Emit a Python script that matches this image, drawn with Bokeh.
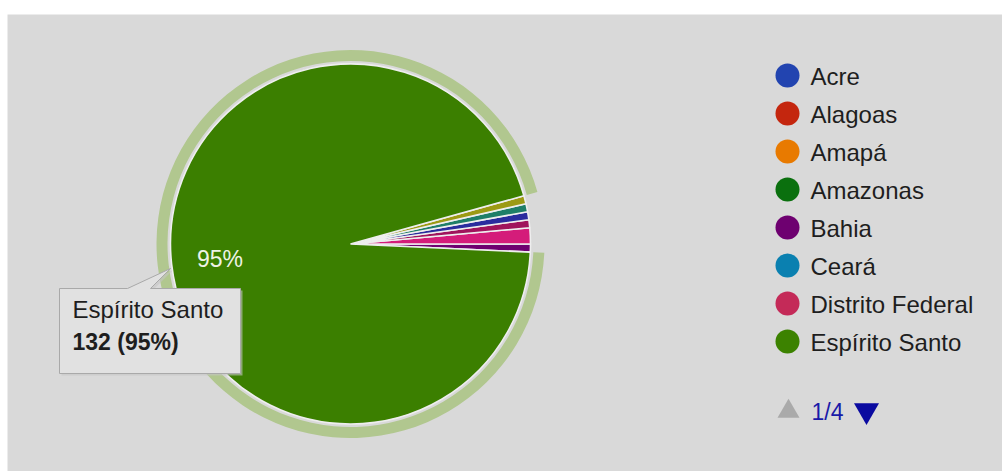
import math
from bokeh.plotting import figure
from bokeh.models import ColumnDataSource, Range1d
from bokeh.core.properties import value
from bokeh.embed import file_html
from bokeh.resources import INLINE

# ---------------- data ----------------
legend_states = ["Acre", "Alagoas", "Amapá", "Amazonas", "Bahia", "Ceará",
                 "Distrito Federal", "Espírito Santo"]
legend_colors = ["#2244b0", "#c4260e", "#e87a00", "#0a700e", "#6e0070",
                 "#0a80b0", "#c42a58", "#3c8200"]

slice_names = ["Bahia", "Distrito Federal", "Goiás", "Maranhão",
               "Mato Grosso do Sul", "Minas Gerais", "Espírito Santo"]
slice_values = [1, 2, 1, 1, 1, 1, 132]
slice_colors = ["#6e0070", "#d41c7a", "#a0145c", "#2a2c9e", "#1f7e68",
                "#9c9a14", "#3b7f00"]

highlight = "Espírito Santo"
page_label = "1/4"

# ---------------- layout ----------------
W, H = 1002, 471
FONT = value("Liberation Sans")


def py(y):
    return H - y


cx, cy = 350, py(243.5)
R = 180
start = math.radians(-2.6)

total = sum(slice_values)
starts, ends = [], []
a = start
for v in slice_values:
    starts.append(a)
    a += v / total * 2 * math.pi
    ends.append(a)

src = ColumnDataSource(dict(name=slice_names, value=slice_values,
                            color=slice_colors, start=starts, end=ends))

p = figure(width=W, height=H, x_range=Range1d(0, W), y_range=Range1d(0, H),
           toolbar_location=None, output_backend="svg", min_border=0)
p.axis.visible = False
p.grid.visible = False
p.outline_line_color = None
p.background_fill_color = "white"
p.border_fill_color = "white"

# chart area background
p.quad(left=7, right=W, bottom=0, top=py(14), fill_color="#d9d9d9", line_color=None)

# highlight ring of hovered slice
hi = slice_names.index(highlight)
p.annular_wedge(x=cx, y=cy, inner_radius=R + 3, outer_radius=R + 14,
                start_angle=starts[hi], end_angle=ends[hi],
                fill_color="#b1c78f", line_color=None)

# pie slices
p.wedge(x=cx, y=cy, radius=R, start_angle="start", end_angle="end",
        fill_color="color", line_color="#eeeeee", line_width=1.6, source=src)

# slice label (percent) for big slice
mid = (starts[hi] + ends[hi]) / 2
pct = round(slice_values[hi] / total * 100)
p.text(x=[cx + 0.73 * R * math.cos(mid)], y=[cy + 0.73 * R * math.sin(mid)],
       text=[f"{pct}%"], text_align="center", text_baseline="middle",
       text_font=FONT, text_font_size="23px", text_color="#eef3e6")

# legend
for i, (name, col) in enumerate(zip(legend_states, legend_colors)):
    yy = py(75 + 38 * i)
    p.scatter(x=[787], y=[yy], size=24, marker="circle", fill_color=col, line_color=None)
    p.text(x=[810], y=[yy - 1], text=[name], text_baseline="middle",
           text_font=FONT, text_font_size="24px", text_color="#1e1e1e")

# pager
p.scatter(x=[788], y=[py(411)], size=22, marker="triangle",
          fill_color="#aaaaaa", line_color=None)
p.text(x=[811], y=[py(411)], text=[page_label], text_baseline="middle",
       text_font=FONT, text_font_size="23px", text_color="#1a1aa8")
p.scatter(x=[866], y=[py(410)], size=25, marker="inverted_triangle",
          fill_color="#0a0aa0", line_color=None)

# tooltip
tx = [59, 127, 170, 150, 240, 240, 59]
ty = [288, 288, 268, 288, 288, 373, 373]
p.patch(x=[x + 2 for x in tx], y=[py(y + 2) for y in ty], fill_color="#c4c4c4",
        fill_alpha=0.6, line_color=None)
p.patch(x=tx, y=[py(y) for y in ty], fill_color="#e1e1e1", line_color="#a9a9a9",
        line_width=1)
p.text(x=[72], y=[py(322)], text=[highlight], text_font=FONT,
       text_font_size="24px", text_color="#1e1e1e")
p.text(x=[72], y=[py(354)], text=[f"{slice_values[hi]} ({pct}%)"], text_font=FONT,
       text_font_size="23px", text_font_style="bold", text_color="#1e1e1e")

open("out.html", "w").write(file_html(p, INLINE))
